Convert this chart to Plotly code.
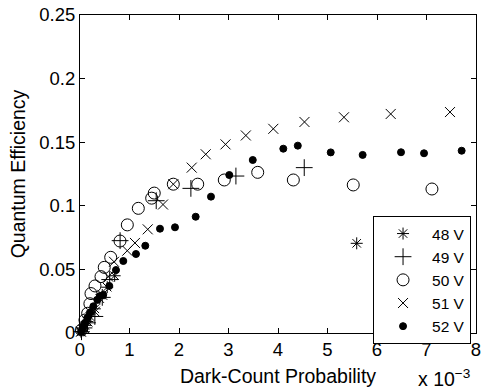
import plotly.graph_objects as go

# Dark-count probability in units of 1e-3, quantum efficiency
v48_x = [0.02, 0.05, 0.1, 0.15, 0.2, 0.3, 0.4, 0.55, 0.7, 5.59]
v48_y = [0.001, 0.003, 0.006, 0.009, 0.013, 0.019, 0.027, 0.036, 0.045, 0.0705]

v49_x = [0.03, 0.08, 0.15, 0.3, 0.45, 0.6, 0.81, 1.54, 2.24, 3.15, 4.53]
v49_y = [0.001, 0.004, 0.008, 0.013, 0.028, 0.042, 0.0726, 0.104, 0.1137, 0.1234, 0.130]

v50_x = [0.03, 0.1, 0.155, 0.2, 0.222, 0.303, 0.424, 0.49, 0.62, 0.808, 0.956,
         1.178, 1.448, 1.50, 1.885, 2.378, 2.915, 3.59, 4.31, 5.52, 7.11]
v50_y = [0.0024, 0.0102, 0.0155, 0.023, 0.031, 0.037, 0.0443, 0.0516, 0.0595, 0.0723, 0.085,
         0.098, 0.106, 0.110, 0.117, 0.117, 0.1203, 0.1263, 0.1203, 0.1164, 0.1132]

v51_x = [0.02, 0.08, 0.15, 0.3, 0.45, 0.57, 0.687, 0.955, 1.11, 1.368, 1.677, 1.885,
         2.257, 2.54, 2.94, 3.35, 3.905, 4.535, 5.333, 6.277, 7.475]
v51_y = [0.001, 0.004, 0.009, 0.0167, 0.03, 0.0443, 0.056, 0.0647, 0.0708, 0.0815, 0.101, 0.117,
         0.130, 0.1405, 0.1483, 0.1553, 0.1605, 0.1659, 0.1696, 0.1722, 0.1737]

v52_x = [0.02, 0.06, 0.1, 0.15, 0.2, 0.27, 0.35, 0.4, 0.47, 0.592, 0.727, 0.875, 1.131,
         1.319, 1.616, 1.919, 2.337, 2.646, 3.016, 3.49, 4.107, 4.40, 5.065, 5.71,
         6.485, 6.95, 7.71]
v52_y = [0.001, 0.004, 0.008, 0.012, 0.016, 0.021, 0.026, 0.029, 0.030, 0.037, 0.0495, 0.0566, 0.0621,
         0.0686, 0.082, 0.0831, 0.0914, 0.1072, 0.1242, 0.136, 0.1449, 0.1473, 0.142, 0.140,
         0.1421, 0.1413, 0.1433]

x_ticks = [0, 1, 2, 3, 4, 5, 6, 7, 8]
x_labels = ["0", "1", "2", "3", "4", "5", "6", "7", "8"]
y_ticks = [0, 0.05, 0.1, 0.15, 0.2, 0.25]
y_labels = ["0", "0.05", "0.1", "0.15", "0.2", "0.25"]

FONT = "Liberation Sans, Arial, sans-serif"
FS = 18.5
FT = 19.5

series = [
    ("48 V", v48_x, v48_y, "asterisk-open", 10),
    ("49 V", v49_x, v49_y, "cross-thin-open", 12),
    ("50 V", v50_x, v50_y, "circle-open", 12),
    ("51 V", v51_x, v51_y, "x-thin-open", 10),
    ("52 V", v52_x, v52_y, "circle", 7),
]

fig = go.Figure()
for name, xs, ys, sym, sz in series:
    fig.add_trace(go.Scatter(
        x=xs, y=ys, mode="markers", name=name, cliponaxis=False,
        marker=dict(symbol=sym, size=sz, color="black",
                    line=dict(color="black", width=1)),
    ))

axis_common = dict(
    showgrid=False, zeroline=False, showline=True, linecolor="black", linewidth=1,
    mirror="ticks", ticks="inside", ticklen=5, tickcolor="black", tickwidth=1,
    tickfont=dict(family=FONT, size=FS, color="black"), automargin=False,
)

fig.update_layout(
    width=486, height=387,
    margin=dict(l=80, r=10, t=15, b=54),
    paper_bgcolor="white", plot_bgcolor="white",
    font=dict(family=FONT, size=FS, color="black"),
    xaxis=dict(range=[0, 8], tickvals=x_ticks, ticktext=x_labels,
               title=dict(text="Dark-Count Probability", standoff=11,
                          font=dict(family=FONT, size=FT, color="black")),
               **axis_common),
    yaxis=dict(range=[0, 0.25], tickvals=y_ticks, ticktext=y_labels,
               title=dict(text="Quantum Efficiency", standoff=8,
                          font=dict(family=FONT, size=FT, color="black")),
               **axis_common),
    legend=dict(x=0.74, y=0.368, xanchor="left", yanchor="top",
                bgcolor="white", bordercolor="black", borderwidth=1,
                font=dict(family=FONT, size=15.5, color="black"),
                itemwidth=48, tracegroupgap=0),
    showlegend=True,
)

fig.add_annotation(
    xref="paper", yref="paper", x=0.848, y=-0.142, xanchor="left", yanchor="middle",
    text="x 10<sup>−3</sup>", showarrow=False,
    font=dict(family=FONT, size=FT, color="black"),
)

fig.write_html("out.html")
